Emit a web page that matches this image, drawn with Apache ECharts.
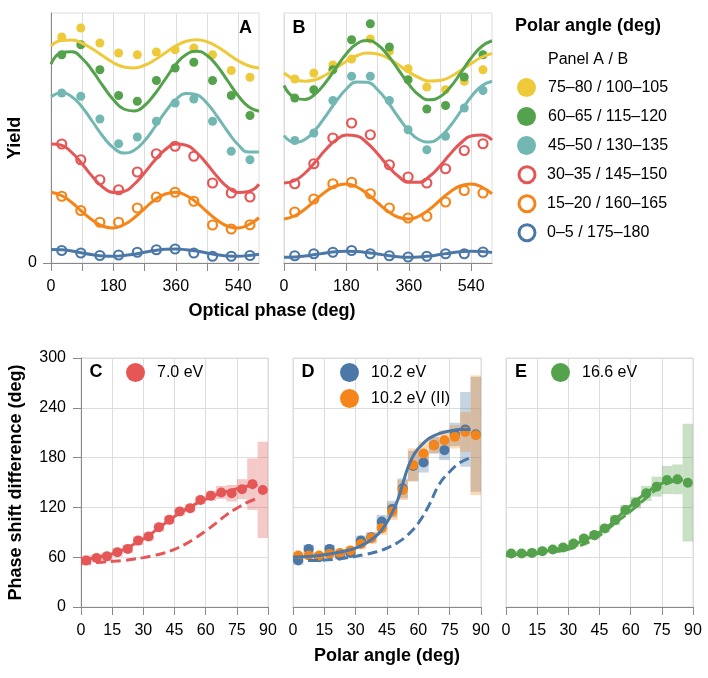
<!DOCTYPE html>
<html>
<head>
<meta charset="utf-8">
<script src="https://cdn.jsdelivr.net/npm/echarts@6/dist/echarts.min.js"></script>
<style>
  html, body { margin: 0; background: #fff; }
  #chart { width: 708px; height: 678px; }
</style>
</head>
<body>
<div id="chart"></div>
<script>
// ---- data ----
const groupNames = ['75–80 / 100–105', '60–65 / 115–120', '45–50 / 130–135', '30–35 / 145–150', '15–20 / 160–165', '0–5 / 175–180']
const groupColors = ['#eeca3b', '#54a24b', '#72b7b2', '#e45756', '#f58518', '#4c78a8']
const groupHollow = [false, false, false, true, true, true]

const phaseTicks = [0, 90, 180, 270, 360, 450, 540]
const phaseLabels = [0, 180, 360, 540]
const phasePts = [31, 86, 141, 195, 249, 304, 358, 412, 466, 520, 574]
const phaseFit = [0, 30, 60, 90, 120, 150, 180, 210, 240, 270, 300, 330, 360, 390, 420, 450, 480, 510, 540, 570, 600]

// panel A (yield, arbitrary units)
const ptsA = [
  [90.4, 94, 88, 84, 83.3, 84.4, 85.3, 86, 83.3, 77, 74.3],
  [83.3, 87.3, 77.3, 67, 64.7, 73, 78, 80.3, 73, 67, 59],
  [68, 66.7, 57.6, 47.7, 50.4, 56.7, 64, 65.6, 56.7, 44.7, 41.3],
  [47.6, 41.3, 33.3, 29.3, 36.4, 43.7, 46.7, 42.7, 32, 28, 26.4],
  [26.7, 21, 16.3, 16.3, 22, 26.4, 28.3, 24.7, 15.2, 13.6, 15.3],
  [5, 4, 3, 3.2, 4.3, 5.3, 5.6, 4, 2.7, 2.7, 3],
]
const fitA = [
  [86.8, 89.0, 89.2, 87.9, 85.6, 82.8, 80.1, 78.4, 78.0, 79.1, 81.3, 84.1, 86.8, 88.7, 89.3, 88.5, 86.5, 83.7, 80.9, 78.9, 78.0],
  [79.5, 84.2, 84.5, 81.8, 76.8, 70.8, 65.3, 61.6, 60.8, 63.0, 67.7, 73.6, 79.4, 83.4, 84.7, 83.0, 78.7, 72.8, 66.9, 62.5, 60.7],
  [66.5, 68.0, 66.5, 62.3, 56.5, 50.6, 46.1, 44.0, 45.1, 48.9, 54.5, 60.5, 65.3, 67.8, 67.3, 63.9, 58.5, 52.5, 47.3, 44.4, 44.4],
  [47.6, 47.1, 44.2, 39.6, 34.5, 30.3, 28.2, 28.6, 31.5, 36.1, 41.2, 45.4, 47.6, 47.1, 44.2, 39.6, 34.5, 30.3, 28.2, 28.6, 31.5],
  [28.3, 27.0, 24.2, 20.5, 17.1, 14.7, 14.0, 15.3, 18.1, 21.8, 25.3, 27.6, 28.3, 27.0, 24.2, 20.5, 17.1, 14.7, 14.0, 15.3, 18.1],
  [5.4, 5.3, 4.8, 4.0, 3.3, 2.8, 2.7, 3.0, 3.5, 4.3, 5.0, 5.5, 5.6, 5.3, 4.8, 4.0, 3.3, 2.8, 2.7, 3.0, 3.5],
]

// panel B
const ptsB = [
  [73.6, 76, 79.2, 81.6, 89.6, 84.7, 77.7, 70.4, 69.3, 72.7, 77.3],
  [66, 69.3, 77.3, 89.3, 95.7, 86.4, 73.3, 61.6, 63, 74.4, 83.3],
  [49, 52, 65, 74.7, 74.7, 65, 53.3, 45.3, 50.7, 62, 69],
  [31.7, 39.7, 50, 56, 51.3, 39.3, 34.4, 32, 37.7, 45, 47.7],
  [20.4, 25.6, 31.7, 32.3, 27.7, 22, 18, 18.7, 24.4, 29, 28],
  [2.9, 3.7, 4.3, 5, 3.7, 2.9, 2.4, 2.7, 3.7, 3.7, 4.4],
]
const fitB = [
  [76.0, 73.5, 72.7, 73.3, 75.2, 77.9, 80.7, 82.9, 84.0, 83.6, 81.9, 79.3, 76.4, 74.1, 72.8, 73.0, 74.5, 77.0, 79.8, 82.3, 83.8],
  [71.0, 66.2, 65.4, 67.6, 72.2, 78.1, 83.7, 87.7, 89.0, 87.3, 83.0, 77.3, 71.5, 67.1, 65.3, 66.5, 70.4, 76.1, 82.0, 86.6, 88.9],
  [51.0, 48.3, 49.4, 53.2, 58.7, 64.6, 69.6, 72.4, 72.3, 69.3, 64.3, 58.3, 52.9, 49.3, 48.4, 50.4, 54.9, 60.7, 66.5, 70.8, 72.7],
  [32.0, 32.9, 35.9, 40.4, 45.3, 49.2, 51.2, 50.8, 48.0, 43.7, 38.8, 34.7, 32.3, 32.3, 34.7, 38.8, 43.7, 48.0, 50.8, 51.2, 49.2],
  [17.6, 18.8, 21.5, 25.1, 28.5, 30.9, 31.6, 30.4, 27.7, 24.1, 20.7, 18.3, 17.6, 18.8, 21.5, 25.1, 28.5, 30.9, 31.6, 30.4, 27.7],
  [2.3, 2.4, 2.8, 3.4, 4.0, 4.5, 4.7, 4.6, 4.2, 3.6, 3.0, 2.5, 2.3, 2.4, 2.8, 3.4, 4.0, 4.5, 4.7, 4.6, 4.2],
]

// panels C-E (phase shift difference vs polar angle)
const polarAngle = [2.5, 7.5, 12.5, 17.5, 22.5, 27.5, 32.5, 37.5, 42.5, 47.5, 52.5, 57.5, 62.5, 67.5, 72.5, 77.5, 82.5, 87.5]
const binHalf = 2.5
const fitAngle = [0, 5, 10, 15, 20, 25, 30, 35, 40, 45, 50, 55, 60, 65, 70, 75, 80, 85]
const fitAngleD = [0, 5, 10, 15, 20, 25, 30, 35, 40, 42.5, 45, 47.5, 50, 52.5, 55, 57.5, 60, 65, 70, 75, 80, 85]

const ptsC = [56, 59, 61, 66, 70, 80, 85, 96, 105, 115, 119, 129, 134, 138, 137, 142, 148, 141]
const errC = [6, 5, 5, 5, 5, 5, 5, 5, 5, 5, 5, 5, 6, 8, 10, 12, 31, 58]
const fitC = [57, 58.5, 61, 64, 68.5, 75, 82, 90.5, 100, 109, 117, 124, 130, 135, 139, 142.5, 145.5, 147]
const dashC = [53, 53.3, 54, 55, 56, 57.5, 59.5, 62, 65, 69.5, 75.5, 83, 91.5, 101, 111, 119, 126, 131]

const ptsD = [56, 70, 60, 70, 62, 65, 80, 84, 103, 118, 143, 170, 174, 195, 189, 208, 214, 208]
const errD = [5, 5, 5, 5, 5, 5, 6, 6, 8, 10, 12, 18, 12, 10, 12, 14, 45, 69]
const ptsD2 = [62, 62, 62, 64, 65, 68, 76, 83, 95, 115, 141, 171, 185, 195, 201, 205, 211, 207]
const errD2 = [4, 4, 4, 4, 5, 5, 6, 7, 8, 10, 12, 20, 14, 10, 12, 14, 24, 72]
const fitD = [60, 60.5, 61.5, 63, 65, 67.5, 71, 77, 86, 93, 102, 114, 128, 148, 168, 182, 191, 203, 209, 212, 214, 214]
const dashD = [56, 56, 56, 56.5, 57.5, 59, 61, 63.5, 66.5, 71, 77.5, 87, 101, 122, 148, 163, 174, 180]

const ptsE = [64.4, 64.4, 65.2, 67.3, 69.3, 71.7, 76.5, 82.6, 86.6, 94.6, 104.7, 116.8, 125.7, 136.9, 145, 153, 153.8, 149.8]
const errE = [3, 3, 3, 3, 3, 4, 4, 4, 5, 5, 6, 6, 7, 9, 12, 17, 18, 71]
const fitE = [63, 63.5, 64.5, 65.5, 67.5, 70, 73, 77.5, 83, 90, 99, 111, 122, 133, 142, 149, 152.5, 153]
const dashE = [62, 62.3, 63, 64, 65.5, 67, 69.5, 73.5, 78.5, 86, 96, 106, 115.5, 126, 137, 146, 151, 154]

// ---- chart ----
const FONT = '"Liberation Sans", Arial, Helvetica, sans-serif'
const AXIS = '#888'
const GRID = '#ddd'

const pair = (xs, ys) => xs.map((x, i) => [x, ys[i]])

function fade(hex, a) {
  const n = parseInt(hex.slice(1), 16)
  return `rgba(${(n >> 16) & 255}, ${(n >> 8) & 255}, ${n & 255}, ${a})`
}

function pointStyle(color, hollow) {
  return hollow
    ? { color: 'rgba(255,255,255,0)', borderColor: color, borderWidth: 2.2, opacity: 1 }
    : { color, borderWidth: 0, opacity: 1 }
}

const grids = [
  { left: 51, top: 13, width: 208, height: 250 },
  { left: 284, top: 13, width: 208, height: 250 },
  { left: 81, top: 358, width: 187, height: 249 },
  { left: 293, top: 358, width: 188, height: 249 },
  { left: 506, top: 358, width: 187, height: 249 },
].map((g) => ({ ...g, show: true, borderColor: GRID, borderWidth: 1, backgroundColor: 'transparent' }))

const tickLabel = { fontSize: 16, color: '#000', fontFamily: FONT }
const nameStyle = { fontSize: 18, fontWeight: 'bold', color: '#000', fontFamily: FONT }

function phaseAxis(gridIndex) {
  return {
    gridIndex, type: 'value', min: 0, max: 600, interval: 90,
    axisLine: { lineStyle: { color: AXIS } },
    axisTick: { length: 8, lineStyle: { color: AXIS }, customValues: phaseTicks },
    axisLabel: { ...tickLabel, margin: 16, customValues: phaseLabels },
    splitLine: { show: true, lineStyle: { color: GRID } },
  }
}

function yieldAxis(gridIndex, labelled) {
  return {
    gridIndex, type: 'value', min: 0, max: 100, interval: 100,
    name: labelled ? 'Yield' : '',
    nameLocation: 'middle', nameGap: 26, nameTextStyle: nameStyle,
    axisLine: { show: labelled, lineStyle: { color: AXIS } },
    axisTick: { show: labelled, length: 8, lineStyle: { color: AXIS }, customValues: [0] },
    axisLabel: { show: labelled, ...tickLabel, margin: 14, customValues: [0] },
    splitLine: { show: false },
  }
}

function angleAxis(gridIndex, name) {
  return {
    gridIndex, type: 'value', min: 0, max: 90, interval: 15,
    name, nameLocation: 'middle', nameGap: 40, nameTextStyle: nameStyle,
    axisLine: { lineStyle: { color: AXIS } },
    axisTick: { length: 8, lineStyle: { color: AXIS } },
    axisLabel: { ...tickLabel, margin: 16 },
    splitLine: { show: true, lineStyle: { color: GRID } },
  }
}

function shiftAxis(gridIndex, labelled) {
  return {
    gridIndex, type: 'value', min: 0, max: 300, interval: 60,
    name: labelled ? 'Phase shift difference (deg)' : '',
    nameLocation: 'middle', nameGap: 56, nameTextStyle: nameStyle,
    axisLine: { show: labelled, lineStyle: { color: AXIS } },
    axisTick: { show: labelled, length: 8, lineStyle: { color: AXIS } },
    axisLabel: { show: labelled, ...tickLabel, margin: 15 },
    splitLine: { show: true, lineStyle: { color: GRID } },
  }
}

const series = []

// top panels: points first, fitted curves on top
;[[ptsA, fitA], [ptsB, fitB]].forEach(([pts, fits], p) => {
  pts.forEach((row, i) => {
    series.push({
      name: groupNames[i], type: 'scatter', xAxisIndex: p, yAxisIndex: p,
      data: pair(phasePts, row), symbolSize: 9,
      itemStyle: pointStyle(groupColors[i], groupHollow[i]), z: 3,
    })
  })
  fits.forEach((row, i) => {
    series.push({
      type: 'line', xAxisIndex: p, yAxisIndex: p, data: pair(phaseFit, row),
      smooth: 0.5, symbol: 'none', silent: true,
      lineStyle: { color: groupColors[i], width: 3 }, z: 4,
    })
  })
})

function boxes(axis, ys, errs, color) {
  return {
    type: 'custom', xAxisIndex: axis, yAxisIndex: axis, silent: true, z: 1,
    data: polarAngle.map((x, i) => [x, ys[i] - errs[i], ys[i] + errs[i]]),
    renderItem: (params, api) => {
      const p0 = api.coord([api.value(0) - binHalf, api.value(2)])
      const p1 = api.coord([api.value(0) + binHalf, api.value(1)])
      return {
        type: 'rect',
        shape: { x: p0[0], y: p0[1], width: p1[0] - p0[0], height: p1[1] - p0[1] },
        style: { fill: fade(color, 0.32) },
      }
    },
  }
}

function dots(axis, name, ys, color) {
  return {
    name, type: 'scatter', xAxisIndex: axis, yAxisIndex: axis,
    data: pair(polarAngle, ys), symbolSize: 10, itemStyle: { color, opacity: 1 }, z: 3,
  }
}

function curve(axis, xs, ys, color, dashed) {
  return {
    type: 'line', xAxisIndex: axis, yAxisIndex: axis, data: pair(xs, ys),
    smooth: 0.4, symbol: 'none', silent: true, z: 4,
    lineStyle: { color, width: 3, type: dashed ? [10, 5] : 'solid' },
  }
}

const RED = '#e45756', BLUE = '#4c78a8', ORANGE = '#f58518', GREEN = '#54a24b'

series.push(
  boxes(2, ptsC, errC, RED),
  dots(2, '7.0 eV', ptsC, RED),
  curve(2, fitAngle, fitC, RED, false),
  curve(2, fitAngle, dashC, RED, true),

  boxes(3, ptsD, errD, BLUE),
  boxes(3, ptsD2, errD2, ORANGE),
  dots(3, '10.2 eV', ptsD, BLUE),
  dots(3, '10.2 eV (II)', ptsD2, ORANGE),
  curve(3, fitAngleD, fitD, BLUE, false),
  curve(3, fitAngle, dashD, BLUE, true),

  boxes(4, ptsE, errE, GREEN),
  dots(4, '16.6 eV', ptsE, GREEN),
  curve(4, fitAngle, fitE, GREEN, false),
  curve(4, fitAngle, dashE, GREEN, true),
)

const legendText = { fontSize: 16, color: '#000', fontFamily: FONT, padding: [0, 0, 0, 7] }
const legendBase = {
  orient: 'vertical', padding: 0, itemWidth: 19, itemHeight: 19,
  icon: 'circle', textStyle: legendText,
}

const legends = [
  // filled and hollow entries of the panel A/B key, split so the rings keep the same pitch
  {
    ...legendBase, left: 517, top: 78, itemGap: 10,
    data: groupNames.filter((_, i) => !groupHollow[i]).map((name) => ({
      name, itemStyle: { color: groupColors[groupNames.indexOf(name)], borderWidth: 0, opacity: 1 },
    })),
  },
  {
    ...legendBase, left: 517.5, top: 165.2, itemGap: 10, itemWidth: 16, itemHeight: 16,
    data: groupNames.filter((_, i) => groupHollow[i]).map((name) => ({
      name, itemStyle: { color: '#fff', borderColor: groupColors[groupNames.indexOf(name)], borderWidth: 3, opacity: 1 },
    })),
  },
  { ...legendBase, left: 126, top: 363, data: ['7.0 eV'] },
  { ...legendBase, left: 340, top: 363, itemGap: 7, data: ['10.2 eV', '10.2 eV (II)'] },
  { ...legendBase, left: 551, top: 363, data: ['16.6 eV'] },
]

function label(x, y, text, opts = {}) {
  return {
    type: 'text', x, y, silent: true,
    style: {
      text, fill: '#000', fontFamily: FONT,
      fontSize: opts.size || 18, fontWeight: opts.weight || 'bold',
      align: opts.align || 'center', verticalAlign: 'middle',
    },
  }
}

const option = {
  animation: false,
  textStyle: { fontFamily: FONT },
  grid: grids,
  xAxis: [phaseAxis(0), phaseAxis(1), angleAxis(2, ''), angleAxis(3, 'Polar angle (deg)'), angleAxis(4, '')],
  yAxis: [yieldAxis(0, true), yieldAxis(1, false), shiftAxis(2, true), shiftAxis(3, false), shiftAxis(4, false)],
  legend: legends,
  series,
  graphic: [
    label(245.5, 28, 'A'),
    label(299, 28, 'B'),
    label(96, 372, 'C'),
    label(308, 372, 'D'),
    label(521, 372, 'E'),
    label(272, 311, 'Optical phase (deg)'),
    label(515, 26, 'Polar angle (deg)', { align: 'left' }),
    label(548, 60, 'Panel A / B', { align: 'left', size: 16, weight: 'normal' }),
  ],
}

const chart = echarts.init(document.getElementById('chart'))
chart.setOption(option)
window.addEventListener('resize', () => chart.resize())
</script>
</body>
</html>
